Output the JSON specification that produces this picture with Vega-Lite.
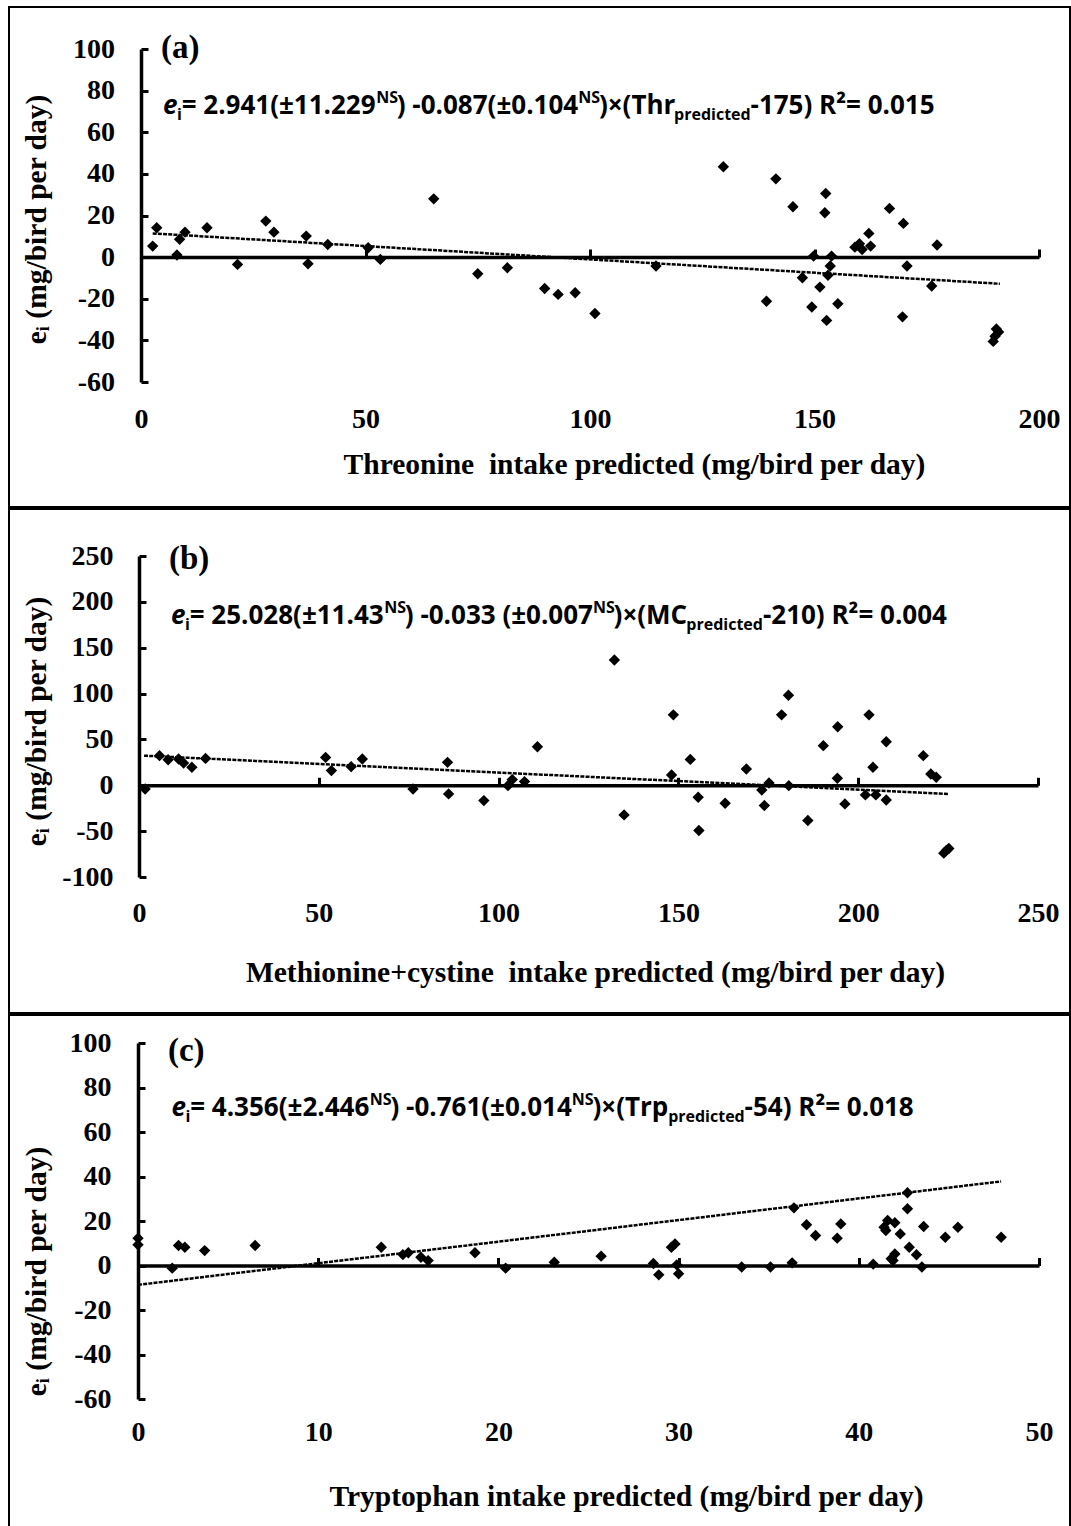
{
  "$schema": "https://vega.github.io/schema/vega-lite/v6.json",
  "background": "white",
  "padding": {"left": 8, "top": 6, "right": 0, "bottom": 0},
  "spacing": 0,
  "config": {
    "view": {"stroke": "black", "strokeWidth": 2},
    "axis": {
      "grid": false,
      "labelFont": "Liberation Serif", "labelFontWeight": "bold", "labelFontSize": 28, "labelColor": "black",
      "titleFont": "Liberation Serif", "titleFontWeight": "bold", "titleFontSize": 29.5, "titleColor": "black",
      "domainColor": "black", "domainWidth": 3.5, "tickColor": "black", "tickWidth": 3,
      "labelOverlap": false, "labelFlush": false, "labelExpr": "'' + datum.value"
    }
  },
  "datasets": {
    "a_pts": [
      {"x":2.6,"y":5.3},{"x":3.5,"y":14.1},{"x":8.0,"y":1.0},{"x":8.6,"y":8.6},{"x":9.8,"y":12.0},{"x":14.7,"y":14.1},{"x":21.5,"y":-3.5},{"x":27.8,"y":17.3},{"x":29.6,"y":12.0},{"x":37.2,"y":-3.2},{"x":36.8,"y":10.1},{"x":41.6,"y":6.1},{"x":50.6,"y":4.5},{"x":53.3,"y":-1.1},{"x":65.2,"y":28.0},{"x":75.0,"y":-8.0},{"x":81.6,"y":-5.1},{"x":89.9,"y":-15.1},{"x":92.9,"y":-17.9},{"x":96.7,"y":-17.1},{"x":101.1,"y":-27.1},{"x":114.7,"y":-4.3},{"x":139.3,"y":-21.2},{"x":147.3,"y":-9.9},{"x":151.2,"y":-14.4},{"x":149.4,"y":-24.0},{"x":155.2,"y":-22.4},{"x":152.7,"y":-30.4},{"x":153.5,"y":-4.3},{"x":153.0,"y":-8.7},{"x":170.6,"y":-4.3},{"x":169.6,"y":-28.7},{"x":176.1,"y":-13.9},{"x":190.5,"y":-34.5},{"x":191.0,"y":-36.0},{"x":190.2,"y":-38.0},{"x":189.8,"y":-40.5},{"x":129.7,"y":43.4},{"x":141.4,"y":37.6},{"x":145.2,"y":24.2},{"x":152.5,"y":30.6},{"x":152.3,"y":21.3},{"x":166.7,"y":23.4},{"x":169.8,"y":16.2},{"x":162.1,"y":11.4},{"x":159.0,"y":4.8},{"x":160.6,"y":3.7},{"x":162.5,"y":5.3},{"x":160.0,"y":6.4},{"x":177.3,"y":5.8},{"x":149.8,"y":0.5},{"x":153.8,"y":0.5}
    ],
    "a_line": [{"x":2.6,"y":11.4},{"x":191.3,"y":-12.8}],
    "a_eq": [
      {"t":"e","x":4.90,"y":68.75,"k":"it"},{"t":"i","x":8.02,"y":68.75,"k":"sub"},{"t":"= 2.941(±11.229","x":9.06,"y":68.75,"k":"m"},{"t":"NS","x":52.38,"y":68.75,"k":"sup"},{"t":") -0.087(±0.104","x":56.97,"y":68.75,"k":"m"},{"t":"NS","x":97.39,"y":68.75,"k":"sup"},{"t":")×(Thr","x":101.98,"y":68.75,"k":"m"},{"t":"predicted","x":118.73,"y":68.75,"k":"sub"},{"t":"-175) R²= 0.015","x":135.75,"y":68.75,"k":"m"},{"t":"(a)","x":4.45,"y":100.5,"k":"lab"}
    ],
    "b_pts": [
      {"x":1.7,"y":-4},{"x":5.7,"y":32.3},{"x":8.1,"y":27.9},{"x":11.0,"y":28.6},{"x":12.4,"y":24.2},{"x":14.7,"y":19.6},{"x":18.5,"y":29.3},{"x":51.9,"y":30.4},{"x":53.5,"y":16.0},{"x":59.0,"y":20.3},{"x":62.1,"y":28.6},{"x":76.2,"y":-4},{"x":85.8,"y":25.0},{"x":86.1,"y":-9.4},{"x":95.9,"y":-16.7},{"x":102.6,"y":-0.4},{"x":103.8,"y":6.2},{"x":107.2,"y":4.0},{"x":110.8,"y":42},{"x":132.2,"y":136.6},{"x":134.9,"y":-32.3},{"x":148.6,"y":76.8},{"x":180.6,"y":98.2},{"x":178.7,"y":76.8},{"x":203,"y":76.8},{"x":194.3,"y":63.8},{"x":207.8,"y":47.5},{"x":190.3,"y":43.2},{"x":218.1,"y":32.3},{"x":153.3,"y":28.2},{"x":148.1,"y":11.2},{"x":155.5,"y":-13},{"x":155.7,"y":-49.3},{"x":163,"y":-19.6},{"x":168.9,"y":17.7},{"x":173.2,"y":-5.1},{"x":173.9,"y":-22.1},{"x":175.2,"y":2.5},{"x":180.7,"y":-0.4},{"x":186,"y":-38.4},{"x":194.2,"y":7.6},{"x":196.3,"y":-20.3},{"x":202,"y":-10.5},{"x":204.9,"y":-10.5},{"x":207.8,"y":-16},{"x":204.1,"y":19.6},{"x":220.2,"y":12.3},{"x":221.7,"y":8.7},{"x":223.8,"y":-74},{"x":224.5,"y":-71},{"x":225.2,"y":-69}
    ],
    "b_line": [{"x":1.4,"y":32.3},{"x":225,"y":-9.4}],
    "b_eq": [
      {"t":"e","x":8.90,"y":176.1,"k":"it"},{"t":"i","x":12.79,"y":176.1,"k":"sub"},{"t":"= 25.028(±11.43","x":14.10,"y":176.1,"k":"m"},{"t":"NS","x":68.19,"y":176.1,"k":"sup"},{"t":") -0.033 (±0.007","x":73.92,"y":176.1,"k":"m"},{"t":"NS","x":126.25,"y":176.1,"k":"sup"},{"t":")×(MC","x":131.98,"y":176.1,"k":"m"},{"t":"predicted","x":152.2,"y":176.1,"k":"sub"},{"t":"-210) R²= 0.004","x":173.5,"y":176.1,"k":"m"},{"t":"(b)","x":8.34,"y":246.7,"k":"lab"}
    ],
    "c_pts": [
      {"x":0,"y":12.3},{"x":0,"y":9.3},{"x":2.25,"y":9},{"x":2.6,"y":8.2},{"x":3.7,"y":6.7},{"x":6.5,"y":9},{"x":13.5,"y":8.2},{"x":14.7,"y":4.9},{"x":15.0,"y":5.7},{"x":15.7,"y":3.7},{"x":16.1,"y":2.2},{"x":18.7,"y":5.7},{"x":1.9,"y":-1.2},{"x":20.4,"y":-1.2},{"x":23.1,"y":1.5},{"x":25.7,"y":4.2},{"x":28.6,"y":0.9},{"x":28.9,"y":-4.2},{"x":29.9,"y":0.3},{"x":30.0,"y":-3.7},{"x":33.5,"y":-0.7},{"x":35.1,"y":-0.7},{"x":36.3,"y":1.2},{"x":40.8,"y":0.6},{"x":43.5,"y":-0.7},{"x":29.6,"y":8.2},{"x":29.8,"y":9.7},{"x":36.4,"y":25.9},{"x":37.1,"y":18.3},{"x":37.6,"y":13.5},{"x":39.0,"y":18.7},{"x":38.8,"y":12.3},{"x":41.4,"y":17.2},{"x":41.6,"y":20.2},{"x":42.0,"y":19.2},{"x":41.5,"y":15.7},{"x":42.3,"y":14.2},{"x":42.7,"y":32.7},{"x":42.7,"y":25.5},{"x":43.6,"y":17.5},{"x":44.8,"y":12.7},{"x":45.5,"y":17.2},{"x":47.9,"y":12.7},{"x":42.8,"y":8.2},{"x":43.2,"y":4.8},{"x":42.0,"y":5.2},{"x":41.8,"y":3.0},{"x":41.9,"y":2.2}
    ],
    "c_line": [{"x":0,"y":-8.7},{"x":47.9,"y":37.8}],
    "c_eq": [
      {"t":"e","x":1.859,"y":67.0,"k":"it"},{"t":"i","x":2.636,"y":67.0,"k":"sub"},{"t":"= 4.356(±2.446","x":2.897,"y":67.0,"k":"m"},{"t":"NS","x":12.86,"y":67.0,"k":"sup"},{"t":") -0.761(±0.014","x":14.01,"y":67.0,"k":"m"},{"t":"NS","x":24.07,"y":67.0,"k":"sup"},{"t":")×(Trp","x":25.22,"y":67.0,"k":"m"},{"t":"predicted","x":29.42,"y":67.0,"k":"sub"},{"t":"-54) R²= 0.018","x":33.66,"y":67.0,"k":"m"},{"t":"(c)","x":1.66,"y":96.2,"k":"lab"}
    ]
  },
  "vconcat": [
    {
      "width": 1061, "height": 500,
      "layer": [
        {"data": {"name": "a_pts"},
         "mark": {"type": "point", "shape": "diamond", "filled": true, "color": "black", "size": 130, "opacity": 1, "strokeWidth": 0},
         "encoding": {
           "x": {"field": "x", "type": "quantitative", "scale": {"domain": [0, 200], "range": [132, 1030], "nice": false, "zero": false},
                 "axis": {"orient": "bottom", "offset": -250, "values": [0,50,100,150,200], "tickSize": -8, "labelPadding": 156, "labelBaseline": "top",
                          "title": "Threonine\u00a0 intake predicted (mg/bird per day)", "titleX": 625, "titleY": 216, "titleBaseline": "alphabetic", "titleAlign": "center"}},
           "y": {"field": "y", "type": "quantitative", "scale": {"domain": [-60, 100], "range": [375, 42], "nice": false, "zero": false},
                 "axis": {"orient": "left", "offset": -132, "values": [-60,-40,-20,0,20,40,60,80,100], "tickSize": -7, "labelPadding": 33.5, "labelBaseline": "middle",
                          "title": "eᵢ (mg/bird per day)", "titleX": -105, "titleY": 212, "titleBaseline": "middle", "titleAlign": "center", "titleAngle": 270}}
         }},
        {"data": {"name": "a_line"},
         "mark": {"type": "line", "color": "black", "strokeWidth": 2.5, "strokeDash": [4, 1.2]},
         "encoding": {"x": {"field": "x", "type": "quantitative"}, "y": {"field": "y", "type": "quantitative"}}},
        {"data": {"name": "a_eq"}, "transform": [{"filter": "datum.k == 'm'"}],
         "mark": {"type": "text", "font": "Open Sans", "fontWeight": "bold", "fontSize": 26, "align": "left", "baseline": "alphabetic", "color": "black"},
         "encoding": {"x": {"field": "x", "type": "quantitative"}, "y": {"field": "y", "type": "quantitative"}, "text": {"field": "t"}}},
        {"data": {"name": "a_eq"}, "transform": [{"filter": "datum.k == 'it'"}],
         "mark": {"type": "text", "font": "Open Sans", "fontWeight": "bold", "fontStyle": "italic", "fontSize": 26, "align": "left", "baseline": "alphabetic", "color": "black"},
         "encoding": {"x": {"field": "x", "type": "quantitative"}, "y": {"field": "y", "type": "quantitative"}, "text": {"field": "t"}}},
        {"data": {"name": "a_eq"}, "transform": [{"filter": "datum.k == 'sup'"}],
         "mark": {"type": "text", "font": "Open Sans", "fontWeight": "bold", "fontSize": 16, "dy": -11, "align": "left", "baseline": "alphabetic", "color": "black"},
         "encoding": {"x": {"field": "x", "type": "quantitative"}, "y": {"field": "y", "type": "quantitative"}, "text": {"field": "t"}}},
        {"data": {"name": "a_eq"}, "transform": [{"filter": "datum.k == 'sub'"}],
         "mark": {"type": "text", "font": "Open Sans", "fontWeight": "bold", "fontSize": 16, "dy": 6, "align": "left", "baseline": "alphabetic", "color": "black"},
         "encoding": {"x": {"field": "x", "type": "quantitative"}, "y": {"field": "y", "type": "quantitative"}, "text": {"field": "t"}}},
        {"data": {"name": "a_eq"}, "transform": [{"filter": "datum.k == 'lab'"}],
         "mark": {"type": "text", "font": "Liberation Serif", "fontWeight": "bold", "fontSize": 33, "align": "left", "baseline": "middle", "color": "black"},
         "encoding": {"x": {"field": "x", "type": "quantitative"}, "y": {"field": "y", "type": "quantitative"}, "text": {"field": "t"}}}
      ]
    },
    {
      "width": 1061, "height": 504,
      "layer": [
        {"data": {"name": "b_pts"},
         "mark": {"type": "point", "shape": "diamond", "filled": true, "color": "black", "size": 130, "opacity": 1, "strokeWidth": 0},
         "encoding": {
           "x": {"field": "x", "type": "quantitative", "scale": {"domain": [0, 250], "range": [130, 1029], "nice": false, "zero": false},
                 "axis": {"orient": "bottom", "offset": -227.7, "values": [0,50,100,150,200,250], "tickSize": -8, "labelPadding": 122, "labelBaseline": "top",
                          "title": "Methionine+cystine\u00a0 intake predicted (mg/bird per day)", "titleX": 586, "titleY": 196, "titleBaseline": "alphabetic", "titleAlign": "center"}},
           "y": {"field": "y", "type": "quantitative", "scale": {"domain": [-100, 250], "range": [368, 47], "nice": false, "zero": false},
                 "axis": {"orient": "left", "offset": -130, "values": [-100,-50,0,50,100,150,200,250], "tickSize": -7, "labelPadding": 33, "labelBaseline": "middle",
                          "title": "eᵢ (mg/bird per day)", "titleX": -103, "titleY": 212, "titleBaseline": "middle", "titleAlign": "center", "titleAngle": 270}}
         }},
        {"data": {"name": "b_line"},
         "mark": {"type": "line", "color": "black", "strokeWidth": 2.5, "strokeDash": [4, 1.2]},
         "encoding": {"x": {"field": "x", "type": "quantitative"}, "y": {"field": "y", "type": "quantitative"}}},
        {"data": {"name": "b_eq"}, "transform": [{"filter": "datum.k == 'm'"}],
         "mark": {"type": "text", "font": "Open Sans", "fontWeight": "bold", "fontSize": 26, "align": "left", "baseline": "alphabetic", "color": "black"},
         "encoding": {"x": {"field": "x", "type": "quantitative"}, "y": {"field": "y", "type": "quantitative"}, "text": {"field": "t"}}},
        {"data": {"name": "b_eq"}, "transform": [{"filter": "datum.k == 'it'"}],
         "mark": {"type": "text", "font": "Open Sans", "fontWeight": "bold", "fontStyle": "italic", "fontSize": 26, "align": "left", "baseline": "alphabetic", "color": "black"},
         "encoding": {"x": {"field": "x", "type": "quantitative"}, "y": {"field": "y", "type": "quantitative"}, "text": {"field": "t"}}},
        {"data": {"name": "b_eq"}, "transform": [{"filter": "datum.k == 'sup'"}],
         "mark": {"type": "text", "font": "Open Sans", "fontWeight": "bold", "fontSize": 16, "dy": -11, "align": "left", "baseline": "alphabetic", "color": "black"},
         "encoding": {"x": {"field": "x", "type": "quantitative"}, "y": {"field": "y", "type": "quantitative"}, "text": {"field": "t"}}},
        {"data": {"name": "b_eq"}, "transform": [{"filter": "datum.k == 'sub'"}],
         "mark": {"type": "text", "font": "Open Sans", "fontWeight": "bold", "fontSize": 16, "dy": 6, "align": "left", "baseline": "alphabetic", "color": "black"},
         "encoding": {"x": {"field": "x", "type": "quantitative"}, "y": {"field": "y", "type": "quantitative"}, "text": {"field": "t"}}},
        {"data": {"name": "b_eq"}, "transform": [{"filter": "datum.k == 'lab'"}],
         "mark": {"type": "text", "font": "Liberation Serif", "fontWeight": "bold", "fontSize": 33, "align": "left", "baseline": "middle", "color": "black"},
         "encoding": {"x": {"field": "x", "type": "quantitative"}, "y": {"field": "y", "type": "quantitative"}, "text": {"field": "t"}}}
      ]
    },
    {
      "width": 1061, "height": 515,
      "layer": [
        {"data": {"name": "c_pts"},
         "mark": {"type": "point", "shape": "diamond", "filled": true, "color": "black", "size": 130, "opacity": 1, "strokeWidth": 0},
         "encoding": {
           "x": {"field": "x", "type": "quantitative", "scale": {"domain": [0, 50], "range": [129, 1030], "nice": false, "zero": false},
                 "axis": {"orient": "bottom", "offset": -264.5, "values": [0,10,20,30,40,50], "tickSize": -8, "labelPadding": 161, "labelBaseline": "top",
                          "title": "Tryptophan intake predicted (mg/bird per day)", "titleX": 617, "titleY": 240, "titleBaseline": "alphabetic", "titleAlign": "center"}},
           "y": {"field": "y", "type": "quantitative", "scale": {"domain": [-60, 100], "range": [384, 28], "nice": false, "zero": false},
                 "axis": {"orient": "left", "offset": -129, "values": [-60,-40,-20,0,20,40,60,80,100], "tickSize": -7, "labelPadding": 34, "labelBaseline": "middle",
                          "title": "eᵢ (mg/bird per day)", "titleX": -102, "titleY": 256, "titleBaseline": "middle", "titleAlign": "center", "titleAngle": 270}}
         }},
        {"data": {"name": "c_line"},
         "mark": {"type": "line", "color": "black", "strokeWidth": 2.5, "strokeDash": [4, 1.2]},
         "encoding": {"x": {"field": "x", "type": "quantitative"}, "y": {"field": "y", "type": "quantitative"}}},
        {"data": {"name": "c_eq"}, "transform": [{"filter": "datum.k == 'm'"}],
         "mark": {"type": "text", "font": "Open Sans", "fontWeight": "bold", "fontSize": 26, "align": "left", "baseline": "alphabetic", "color": "black"},
         "encoding": {"x": {"field": "x", "type": "quantitative"}, "y": {"field": "y", "type": "quantitative"}, "text": {"field": "t"}}},
        {"data": {"name": "c_eq"}, "transform": [{"filter": "datum.k == 'it'"}],
         "mark": {"type": "text", "font": "Open Sans", "fontWeight": "bold", "fontStyle": "italic", "fontSize": 26, "align": "left", "baseline": "alphabetic", "color": "black"},
         "encoding": {"x": {"field": "x", "type": "quantitative"}, "y": {"field": "y", "type": "quantitative"}, "text": {"field": "t"}}},
        {"data": {"name": "c_eq"}, "transform": [{"filter": "datum.k == 'sup'"}],
         "mark": {"type": "text", "font": "Open Sans", "fontWeight": "bold", "fontSize": 16, "dy": -11, "align": "left", "baseline": "alphabetic", "color": "black"},
         "encoding": {"x": {"field": "x", "type": "quantitative"}, "y": {"field": "y", "type": "quantitative"}, "text": {"field": "t"}}},
        {"data": {"name": "c_eq"}, "transform": [{"filter": "datum.k == 'sub'"}],
         "mark": {"type": "text", "font": "Open Sans", "fontWeight": "bold", "fontSize": 16, "dy": 6, "align": "left", "baseline": "alphabetic", "color": "black"},
         "encoding": {"x": {"field": "x", "type": "quantitative"}, "y": {"field": "y", "type": "quantitative"}, "text": {"field": "t"}}},
        {"data": {"name": "c_eq"}, "transform": [{"filter": "datum.k == 'lab'"}],
         "mark": {"type": "text", "font": "Liberation Serif", "fontWeight": "bold", "fontSize": 33, "align": "left", "baseline": "middle", "color": "black"},
         "encoding": {"x": {"field": "x", "type": "quantitative"}, "y": {"field": "y", "type": "quantitative"}, "text": {"field": "t"}}}
      ]
    }
  ]
}
